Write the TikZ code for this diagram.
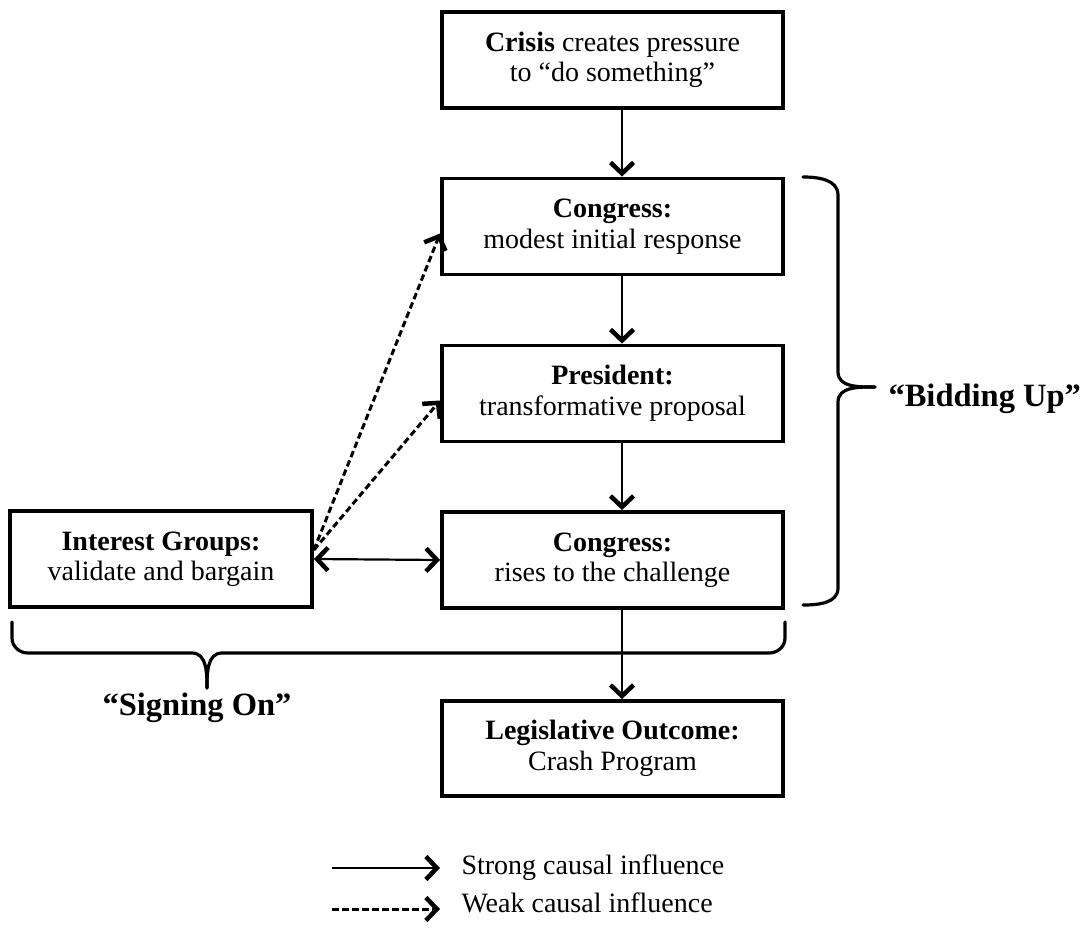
\documentclass[tikz,border=0pt]{standalone}
\usepackage{fontspec}
\setmainfont{Liberation Serif}
\usetikzlibrary{arrows.meta}
\begin{document}
\begin{tikzpicture}[x=1pt,y=1pt,
  box/.style={draw, line width=3.8pt, inner sep=0pt, align=center,
    minimum width=341pt, minimum height=96pt,
    font=\fontsize{28}{30.5}\selectfont},
  strong/.style={line width=2.6pt, -{Straight Barb[length=11pt,width=23pt,line width=4.5pt]}},
  weak/.style={line width=3pt, dash pattern=on 6.5pt off 3.5pt, -{Straight Barb[length=11pt,width=23pt,line width=4.5pt]}},
  both/.style={line width=2.2pt, {Straight Barb[length=11pt,width=23pt,line width=4.5pt]}-{Straight Barb[length=11pt,width=23pt,line width=4.5pt]}},
  brace/.style={line width=3.2pt, line cap=round},
  bigl/.style={font=\fontsize{32.5}{36}\selectfont\bfseries},
  legl/.style={font=\fontsize{28}{30}\selectfont, anchor=west}]
\useasboundingbox (0,0) rectangle (1081,-941);

\node[box] (crisis) at (612.5,-60) {\textbf{Crisis} creates pressure\\to “do something”};
\node[box] (cong1) at (612.5,-226.5) {\textbf{Congress:}\\modest initial response};
\node[box] (pres) at (612.5,-393.5) {\textbf{President:}\\transformative proposal};
\node[box] (cong2) at (612.5,-560) {\textbf{Congress:}\\rises to the challenge};
\node[box, minimum width=302pt] (ig) at (161,-559) {\textbf{Interest Groups:}\\validate and bargain};
\node[box, minimum height=95pt] (leg) at (612.5,-748.5) {\textbf{Legislative Outcome:}\\Crash Program};

\coordinate (colx) at (622,0);
\draw[strong] (crisis.south -| colx) -- (cong1.north -| colx);
\draw[strong] (cong1.south -| colx) -- (pres.north -| colx);
\draw[strong] (pres.south -| colx) -- (cong2.north -| colx);
\draw[strong] (cong2.south -| colx) -- (leg.north -| colx);

\draw[both] (ig.east) -- (cong2.west);
\draw[weak] ([yshift=9pt]ig.east) -- ([yshift=-7pt]cong1.west);
\draw[weak] ([yshift=9pt]ig.east) -- ([yshift=-7pt]pres.west);

% Bidding Up brace
\draw[brace] (803,-177) to[out=0,in=90] (838,-195) -- (838,-372) to[out=-90,in=180] (875,-387);
\draw[brace] (875,-387) to[out=180,in=90] (838,-402) -- (838,-588) to[out=-90,in=0] (803,-605);
\node[bigl, anchor=base west] (bid) at (885,-406) {“Bidding Up”};

% Signing On brace
\draw[brace] (12,-622) -- (12,-638) to[out=-90,in=180] (28,-653) -- (192,-653) to[out=0,in=90] (207,-688);
\draw[brace] (207,-688) to[out=90,in=180] (222,-653) -- (769,-653) to[out=0,in=-90] (785,-638) -- (785,-622);
\node[bigl, anchor=base] (sign) at (197,-715) {“Signing On”};

% Legend
\coordinate (s1) at (332,-868);
\coordinate (s2) at (440,-868);
\coordinate (w1) at (332,-909);
\coordinate (w2) at (440,-909);
\draw[strong] (s1) -- (s2);
\draw[weak] (w1) -- (w2);
\node[legl] (sl) at (458,-868) {Strong causal influence};
\node[legl] (wl) at (458,-903) {Weak causal influence};
\end{tikzpicture}
\end{document}
